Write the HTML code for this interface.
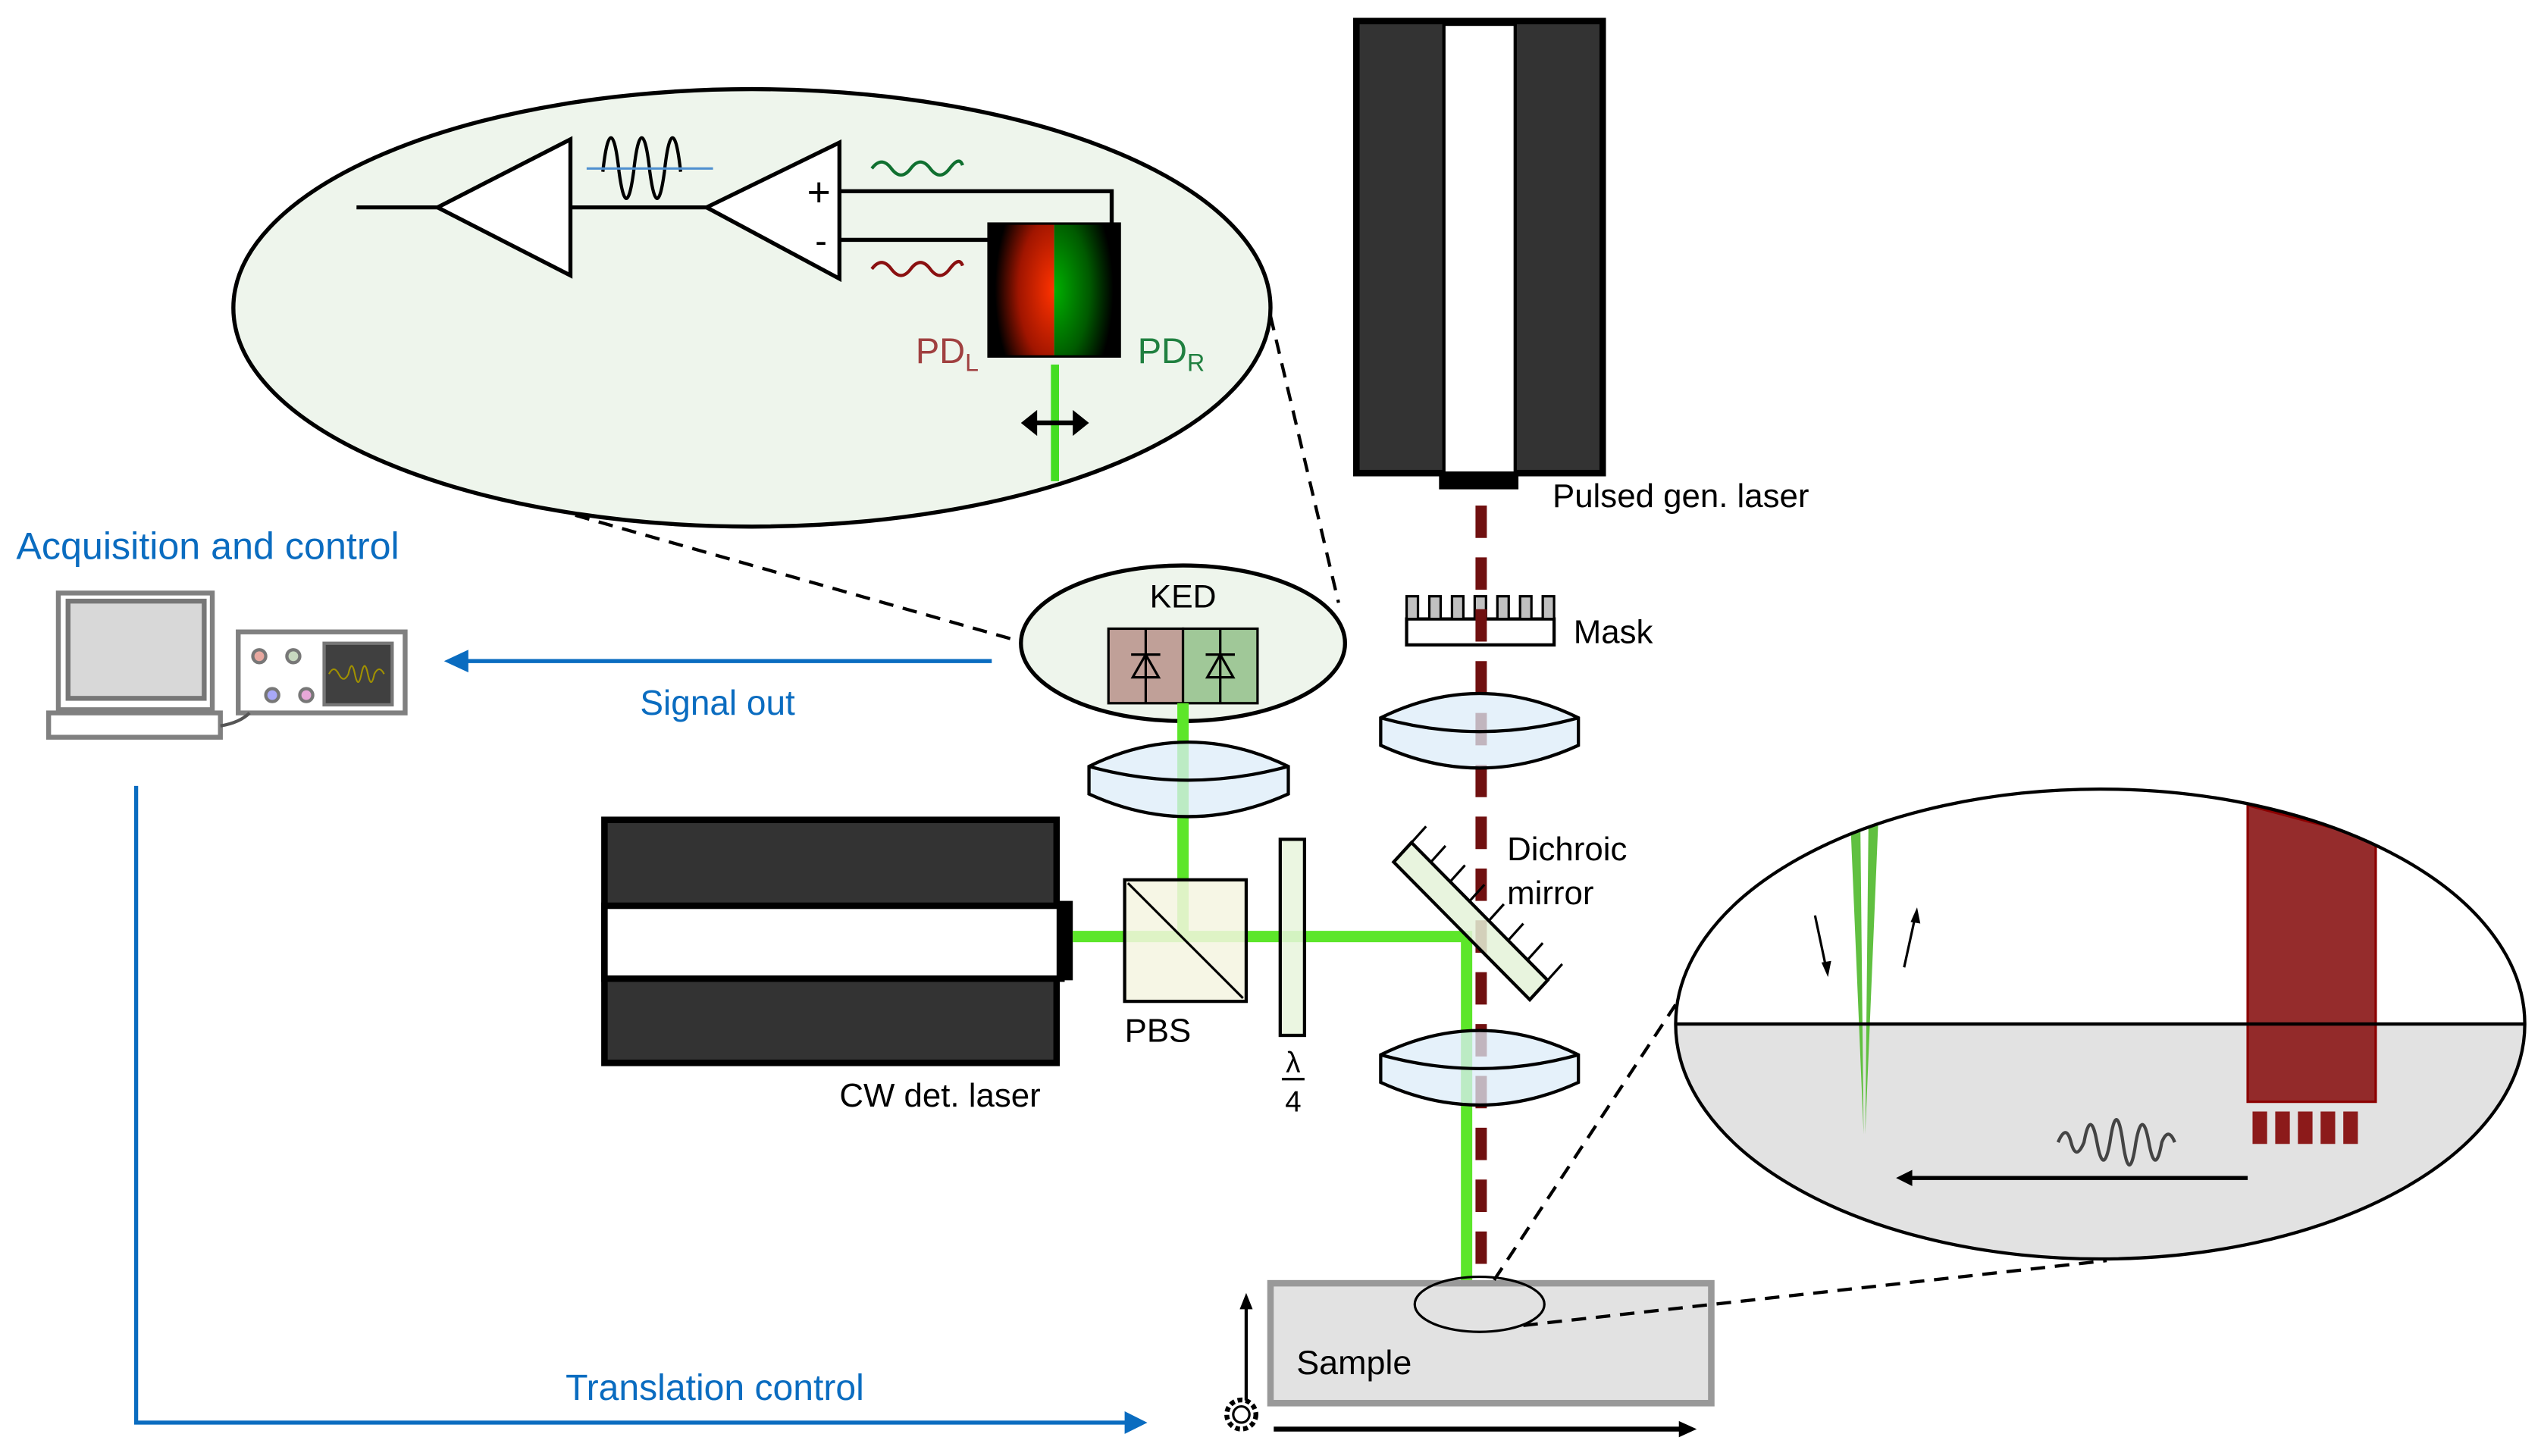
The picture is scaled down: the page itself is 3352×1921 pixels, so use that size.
<!DOCTYPE html>
<html><head><meta charset="utf-8"><style>html,body{margin:0;padding:0;background:#fff}svg{display:block}text{font-family:"Liberation Sans",sans-serif}</style></head>
<body>
<svg width="3352" height="1921" viewBox="0 0 1568 898.6" xmlns="http://www.w3.org/2000/svg">
<defs>
<radialGradient id="gl" cx="1" cy="0.5" r="0.9"><stop offset="0" stop-color="#ff3300"/><stop offset="0.6" stop-color="#a01500"/><stop offset="1" stop-color="#000"/></radialGradient>
<radialGradient id="gr" cx="0" cy="0.5" r="0.9"><stop offset="0" stop-color="#00b000"/><stop offset="0.6" stop-color="#005a00"/><stop offset="1" stop-color="#000"/></radialGradient>
<clipPath id="ce"><ellipse cx="1296" cy="632" rx="262" ry="145"/></clipPath>
</defs>
<ellipse cx="464" cy="190" rx="320" ry="135" fill="#eef5ec" stroke="#000" stroke-width="2.5"/>
<g stroke="#000" stroke-width="2.5" fill="#fff">
<line x1="220" y1="128" x2="270" y2="128"/>
<polygon points="270,128 352,86 352,170"/>
<line x1="352" y1="128" x2="436" y2="128"/>
<polygon points="436,128 518,88 518,172"/>
<polyline fill="none" points="518,118 686,118 686,140"/>
<line x1="518" y1="148" x2="610" y2="148"/>
</g>
<path d="M372,106 C375,78 379,78 382,106 C385,128 388,128 391,106 C394,78 398,78 401,106 C404,128 407,128 410,106 C413,78 417,78 420,106" fill="none" stroke="#000" stroke-width="2"/>
<line x1="362" y1="104" x2="440" y2="104" stroke="#5090d0" stroke-width="1.5"/>
<path d="M538,104 q6,-8 12,0 t12,0 t12,0 t12,0 t8,-2" fill="none" stroke="#107030" stroke-width="2"/>
<path d="M538,166 q6,-8 12,0 t12,0 t12,0 t12,0 t8,-2" fill="none" stroke="#8a1010" stroke-width="2"/>
<text x="498" y="127" font-size="25">+</text>
<text x="503" y="156" font-size="22">-</text>
<rect x="610" y="138" width="40.5" height="82" fill="url(#gl)"/>
<rect x="650.5" y="138" width="40.5" height="82" fill="url(#gr)"/>
<rect x="610" y="138" width="81" height="82" fill="none" stroke="#000" stroke-width="1.5"/>
<text x="565" y="224" font-size="22" fill="#a04040">PD<tspan font-size="15" dy="5">L</tspan></text>
<text x="702" y="224" font-size="22" fill="#208040">PD<tspan font-size="15" dy="5">R</tspan></text>
<line x1="651" y1="225" x2="651" y2="297" stroke="#44dd22" stroke-width="5"/>
<line x1="638" y1="261" x2="664" y2="261" stroke="#000" stroke-width="3"/>
<polygon points="630,261 640,253 640,269" fill="#000"/><polygon points="672,261 662,253 662,269" fill="#000"/>
<g stroke="#000" stroke-width="2" stroke-dasharray="9,6" fill="none">
<line x1="355" y1="318" x2="630" y2="396"/>
<line x1="784" y1="195" x2="826" y2="372"/>
</g>
<ellipse cx="730" cy="397" rx="100" ry="48" fill="#eef5ec" stroke="#000" stroke-width="2.5"/>
<text x="730" y="375" font-size="20" text-anchor="middle">KED</text>
<rect x="684" y="388" width="46" height="46" fill="#c0a098" stroke="#000" stroke-width="1.5"/>
<rect x="730" y="388" width="46" height="46" fill="#a0c898" stroke="#000" stroke-width="1.5"/>
<g stroke="#000" stroke-width="1.5" fill="none">
<line x1="707" y1="388" x2="707" y2="434"/><polygon points="707,404 699,418 715,418"/><line x1="698" y1="404" x2="716" y2="404"/>
<line x1="753" y1="388" x2="753" y2="434"/><polygon points="753,404 745,418 761,418"/><line x1="744" y1="404" x2="762" y2="404"/>
</g>
<rect x="837" y="13" width="152" height="279" fill="#333" stroke="#000" stroke-width="4"/>
<rect x="891" y="15" width="44" height="277" fill="#fff" stroke="#000" stroke-width="2"/>
<rect x="888" y="291" width="49" height="11" fill="#000"/>
<text x="958" y="313" font-size="20.5">Pulsed gen. laser</text>
<rect x="868" y="382" width="91" height="16" fill="#fff" stroke="#000" stroke-width="2"/>
<g fill="#c0c0c0" stroke="#000" stroke-width="1.5">
<rect x="868" y="368" width="7" height="14"/><rect x="882" y="368" width="7" height="14"/><rect x="896" y="368" width="7" height="14"/><rect x="910" y="368" width="7" height="14"/><rect x="924" y="368" width="7" height="14"/><rect x="938" y="368" width="7" height="14"/><rect x="952" y="368" width="7" height="14"/>
</g>
<text x="971" y="397" font-size="20.5">Mask</text>
<rect x="373" y="506" width="279" height="150" fill="#333" stroke="#000" stroke-width="4"/>
<rect x="373" y="559" width="282" height="45" fill="#fff" stroke="#000" stroke-width="4"/>
<rect x="652" y="556" width="10" height="49" fill="#000"/>
<text x="518" y="683" font-size="20.5">CW det. laser</text>
<g stroke="#5ce62a" stroke-width="7" fill="none">
<line x1="730" y1="434" x2="730" y2="578"/>
<polyline points="662,578 905,578 905,806"/>
</g>
<line x1="914" y1="312" x2="914" y2="810" stroke="#701010" stroke-width="7" stroke-dasharray="20,12"/>
<rect x="694" y="543" width="75" height="75" fill="#f4f4e0" fill-opacity="0.85" stroke="#000" stroke-width="2"/>
<line x1="696" y1="545" x2="767" y2="616" stroke="#000" stroke-width="1.5"/>
<text x="694" y="643" font-size="20.5">PBS</text>
<rect x="790" y="518" width="15" height="121" fill="#e8f4dc" fill-opacity="0.85" stroke="#000" stroke-width="2"/>
<text x="798" y="662" font-size="18" text-anchor="middle">λ</text>
<line x1="791" y1="666" x2="805" y2="666" stroke="#000" stroke-width="1.5"/>
<text x="798" y="686" font-size="18" text-anchor="middle">4</text>
<g fill="#dcecf8" fill-opacity="0.75" stroke="#000" stroke-width="2">
<path d="M672,473 Q733,443 795,473 L795,490 Q733,518 672,490 Z"/>
<path d="M852,443 Q913,413 974,443 L974,460 Q913,488 852,460 Z"/>
<path d="M852,651 Q913,621 974,651 L974,668 Q913,696 852,668 Z"/>
</g>
<g fill="none" stroke="#000" stroke-width="2">
<path d="M672,473 Q733,490 795,473"/><path d="M852,443 Q913,460 974,443"/><path d="M852,651 Q913,668 974,651"/>
</g>
<polygon points="860,532 871,520 955,605 944,617" fill="#e4f2d8" fill-opacity="0.85" stroke="#000" stroke-width="2"/>
<g stroke="#000" stroke-width="1.5">
<line x1="871" y1="520" x2="880" y2="510"/><line x1="883" y1="532" x2="892" y2="522"/><line x1="895" y1="544" x2="904" y2="534"/><line x1="907" y1="556" x2="916" y2="546"/><line x1="919" y1="568" x2="928" y2="558"/><line x1="931" y1="580" x2="940" y2="570"/><line x1="943" y1="592" x2="952" y2="582"/><line x1="955" y1="605" x2="964" y2="595"/>
</g>
<text x="930" y="531" font-size="20.5">Dichroic</text>
<text x="930" y="558" font-size="20.5">mirror</text>
<rect x="784" y="792" width="272" height="74" fill="#e2e2e2" stroke="#999" stroke-width="4"/>
<ellipse cx="913" cy="805" rx="40" ry="17" fill="none" stroke="#000" stroke-width="1.5"/>
<text x="800" y="848" font-size="21">Sample</text>
<g stroke="#000" stroke-width="2" stroke-dasharray="9,6" fill="none">
<line x1="922" y1="790" x2="1034" y2="620"/>
<line x1="940" y1="818" x2="1300" y2="778"/>
</g>
<line x1="769" y1="880" x2="769" y2="806" stroke="#000" stroke-width="2"/>
<polygon points="769,798 765,808 773,808" fill="#000"/>
<line x1="786" y1="882" x2="1040" y2="882" stroke="#000" stroke-width="3"/>
<polygon points="1047,882 1036,877 1036,887" fill="#000"/>
<circle cx="766" cy="873" r="9" fill="#fff" stroke="#000" stroke-width="3" stroke-dasharray="3,2"/>
<circle cx="766" cy="873" r="5" fill="#fff" stroke="#000" stroke-width="1.5"/>
<g clip-path="url(#ce)">
<rect x="1030" y="480" width="540" height="152" fill="#fff"/>
<rect x="1030" y="632" width="540" height="150" fill="#e2e2e2"/>
<polygon points="1387,497 1466,518 1466,680 1387,680" fill="#8c1a1a" fill-opacity="0.92" stroke="#8c0000" stroke-width="1.5"/>
<polygon points="1142,510 1148,510 1150,700" fill="#60c040"/>
<polygon points="1153,508 1159,508 1151,700" fill="#60c040"/>
</g>
<line x1="1034" y1="632" x2="1558" y2="632" stroke="#000" stroke-width="2"/>
<ellipse cx="1296" cy="632" rx="262" ry="145" fill="none" stroke="#000" stroke-width="2"/>
<g fill="#8c1a1a"><rect x="1390" y="686" width="9" height="20"/><rect x="1404" y="686" width="9" height="20"/><rect x="1418" y="686" width="9" height="20"/><rect x="1432" y="686" width="9" height="20"/><rect x="1446" y="686" width="9" height="20"/></g>
<g stroke="#000" stroke-width="1.5"><line x1="1120" y1="565" x2="1127" y2="598"/><line x1="1175" y1="597" x2="1182" y2="565"/></g>
<polygon points="1128,603 1124,594 1130,593" fill="#000"/><polygon points="1183,560 1179,569 1185,570" fill="#000"/>
<path d="M1270,705 q5,-12 8,0 t8,0 q4,-22 8,0 t8,0 q4,-28 8,0 t8,0 q4,-22 8,0 t8,0 q4,-10 8,0" fill="none" stroke="#444" stroke-width="2"/>
<line x1="1178" y1="727" x2="1387" y2="727" stroke="#000" stroke-width="2.5"/>
<polygon points="1170,727 1180,722 1180,732" fill="#000"/>
<text x="10" y="345" font-size="23.5" fill="#0a6cc0">Acquisition and control</text>
<line x1="612" y1="408" x2="285" y2="408" stroke="#0a6cc0" stroke-width="2.5"/>
<polygon points="274,408 289,401 289,415" fill="#0a6cc0"/>
<text x="395" y="441" font-size="21.5" fill="#0a6cc0">Signal out</text>
<polyline points="84,485 84,878 696,878" fill="none" stroke="#0a6cc0" stroke-width="2.5"/>
<polygon points="708,878 694,871 694,885" fill="#0a6cc0"/>
<text x="349" y="864" font-size="22.5" fill="#0a6cc0">Translation control</text>
<g stroke="#808080" stroke-width="3" fill="#fff">
<rect x="36" y="366" width="95" height="72"/>
<rect x="30" y="440" width="106" height="15"/>
<rect x="147" y="390" width="103" height="50"/>
</g>
<rect x="42" y="371" width="84" height="60" fill="#d8d8d8" stroke="#777" stroke-width="3"/>
<path d="M136,448 q12,-2 18,-8" fill="none" stroke="#555" stroke-width="2"/>
<rect x="200" y="397" width="42" height="38" fill="#404040" stroke="#777" stroke-width="2"/>
<path d="M203,416 q3,-6 6,0 t6,0 q2,-10 4,0 t4,0 q2,-10 4,0 t4,0 q3,-6 6,0" fill="none" stroke="#a09000" stroke-width="1"/>
<circle cx="160" cy="405" r="4" fill="#e8a8a0" stroke="#777" stroke-width="2"/>
<circle cx="181" cy="405" r="4" fill="#c8d8c0" stroke="#777" stroke-width="2"/>
<circle cx="168" cy="429" r="4" fill="#a8a8f8" stroke="#777" stroke-width="2"/>
<circle cx="189" cy="429" r="4" fill="#e8a8d8" stroke="#777" stroke-width="2"/>
</svg>
</body></html>
